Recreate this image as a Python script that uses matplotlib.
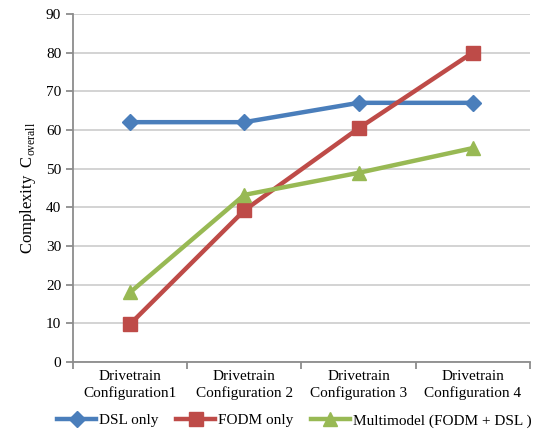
import matplotlib
matplotlib.use("Agg")
import matplotlib.pyplot as plt
import numpy as np

categories = ["Drivetrain\nConfiguration1", "Drivetrain\nConfiguration 2",
              "Drivetrain\nConfiguration 3", "Drivetrain\nConfiguration 4"]
dsl_only = [62, 62, 67, 67]
fodm_only = [9.8, 39.2, 60.4, 80]
multimodel = [18, 43.2, 48.9, 55.3]
y_ticks = [0, 10, 20, 30, 40, 50, 60, 70, 80, 90]

plt.rcParams["font.family"] = ["Liberation Serif", "DejaVu Serif"]
plt.rcParams["mathtext.fontset"] = "custom"
plt.rcParams["mathtext.rm"] = "Liberation Serif"

fig = plt.figure(figsize=(5.42, 4.33), dpi=100)
ax = fig.add_axes([0.1347, 0.164, 0.843, 0.804])

x = np.arange(len(categories))
ax.plot(x, dsl_only, color="#4A7EBB", lw=3.2, marker="D", ms=8.5,
        label="DSL only", zorder=3)
ax.plot(x, fodm_only, color="#BE4B48", lw=3.2, marker="s", ms=10,
        label="FODM only", zorder=3)
ax.plot(x, multimodel, color="#98B954", lw=3.2, marker="^", ms=10,
        label="Multimodel (FODM + DSL )", zorder=3)

ax.set_xlim(-0.5, 3.5)
ax.set_ylim(0, 90)
ax.set_yticks(y_ticks)
ax.yaxis.grid(True, color="#D0D0D0", lw=1.3)
ax.set_axisbelow(True)

ax.set_xticks(x)
ax.set_xticklabels(categories, fontsize=11, linespacing=1.3)
ax.set_xticks([-0.5, 0.5, 1.5, 2.5, 3.5], minor=True)
ax.tick_params(axis="x", which="major", length=0, pad=6)
ax.tick_params(axis="x", which="minor", length=5, width=1.3, color="#8C8C8C")
ax.tick_params(axis="y", length=5, width=1.3, color="#8C8C8C", labelsize=11)

for side in ["top", "right"]:
    ax.spines[side].set_visible(False)
for side in ["left", "bottom"]:
    ax.spines[side].set_color("#8C8C8C")
    ax.spines[side].set_linewidth(1.3)

ax.set_ylabel(r"Complexity  C$_{\mathrm{overall}}$", fontsize=12, labelpad=6)

fig.legend(loc="lower center", bbox_to_anchor=(0.543, -0.012), ncol=3,
           frameon=False, fontsize=11, handlelength=2.6, columnspacing=1.1,
           handletextpad=0.2, borderaxespad=0.3)

fig.savefig("out.png", dpi=100)
